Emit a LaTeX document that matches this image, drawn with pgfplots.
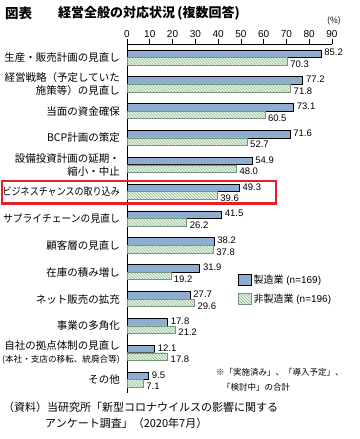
\documentclass[border=0pt]{standalone}
\usepackage{fontspec}
\setmainfont{Liberation Sans}
\newfontfamily\jp{Noto Sans CJK JP}
\usepackage{pgfplots}
\pgfplotsset{compat=1.18}
\usetikzlibrary{patterns}
\definecolor{barblue}{RGB}{143,174,207}
\definecolor{hatchgreen}{RGB}{135,190,145}
\definecolor{lightgreen}{RGB}{232,244,232}
\definecolor{greenedge}{RGB}{120,150,125}
\definecolor{boxred}{RGB}{230,30,40}
\begin{document}
\begin{tikzpicture}
\path[use as bounding box] (0,0) rectangle (359pt,439pt);
\begin{axis}[
  at={(127pt,46pt)}, anchor=south west,
  scale only axis, width=205pt, height=349pt,
  xmin=0, xmax=90, ymin=-0.5, ymax=12.5,
  axis x line=top, axis y line=left,
  axis line style={line width=0.8pt, -},
  xtick={0,10,...,90}, tick align=outside, major tick length=5pt,
  x tick style={line width=0.6pt, black},
  ytick={0,...,12}, y tick style={draw=none},
  xticklabel style={font=\fontsize{10}{12}\selectfont, inner sep=1pt},
  /pgf/number format/assume math mode=true,
  yticklabel style={font=\jp\fontsize{10.5}{13}\selectfont, align=right, inner sep=2pt},
  yticklabels={
    その他,
    自社の拠点体制の見直し\\{\fontsize{8.6}{10}\selectfont (本社・支店の移転、統廃合等)},
    事業の多角化,
    ネット販売の拡充,
    在庫の積み増し,
    顧客層の見直し,
    \scalebox{0.93}[1]{サプライチェーンの見直し},
    \scalebox{0.86}[1]{ビジネスチャンスの取り込み},
    設備投資計画の延期・\\縮小・中止,
    BCP計画の策定,
    当面の資金確保,
    経営戦略（予定していた\\施策等）の見直し,
    生産・販売計画の見直し},
  xbar, bar width=7.5pt,
  nodes near coords={\pgfmathprintnumber[fixed,fixed zerofill,precision=1,assume math mode=true]{\pgfplotspointmeta}},
  nodes near coords style={font=\fontsize{9.5}{11}\selectfont, inner sep=1pt, xshift=2pt},
  legend style={at={(0.54,0.345)}, anchor=north west, draw=none, fill=none,
    inner sep=0pt, row sep=5pt, font=\fontsize{10}{12}\selectfont,
    cells={anchor=west}},
  legend image code/.code={\draw[#1] (0pt,-5.5pt) rectangle (13pt,5.5pt);},
]
\addplot[draw=black, line width=0.7pt, fill=barblue, bar shift=3.75pt,
  every node near coord/.append style={yshift=1pt}]
  coordinates {(85.2,12) (77.2,11) (73.1,10) (71.6,9) (54.9,8) (49.3,7) (41.5,6) (38.2,5) (31.9,4) (27.7,3) (17.8,2) (12.1,1) (9.5,0)};
\addlegendentry{{\jp 製造業} (n=169)}
\addplot[draw=greenedge, line width=0.4pt, fill=lightgreen,
  postaction={pattern=north west lines, pattern color=hatchgreen}, bar shift=-3.75pt,
  every node near coord/.append style={yshift=-3pt}]
  coordinates {(70.3,12) (71.8,11) (60.5,10) (52.7,9) (48.0,8) (39.6,7) (26.2,6) (37.8,5) (19.2,4) (29.6,3) (21.2,2) (17.8,1) (7.1,0)};
\addlegendentry{{\jp 非製造業} (n=196)}
\end{axis}
% title
\node[anchor=west, inner sep=0pt, font=\jp\bfseries\fontsize{13.5}{15}\selectfont] at (5pt,426pt) {図表};
\node[anchor=west, inner sep=0pt, font=\jp\bfseries\fontsize{13}{15}\selectfont] at (58pt,426pt) {経営全般の対応状況\,(複数回答)};
\node[anchor=east, inner sep=0pt, font=\jp\fontsize{8.5}{10}\selectfont] at (341pt,418pt) {(\%)};
% highlight box
\draw[boxred, line width=2.4pt] (2.2pt,235.5pt) rectangle (276pt,258pt);
% note
\node[anchor=west, inner sep=0pt, font=\jp\fontsize{8.5}{10}\selectfont] at (216pt,67pt) {※「実施済み」、「導入予定」、};
\node[anchor=west, inner sep=0pt, font=\jp\fontsize{8.5}{10}\selectfont] at (222pt,52pt) {「検討中」の合計};
% source
\node[anchor=west, inner sep=0pt, font=\jp\fontsize{11}{12}\selectfont] at (3pt,32pt) {（資料）当研究所「新型コロナウイルスの影響に関する};
\node[anchor=west, inner sep=0pt, font=\jp\fontsize{11}{12}\selectfont] at (45pt,16pt) {アンケート調査」（2020年7月）};
\end{tikzpicture}
\end{document}
